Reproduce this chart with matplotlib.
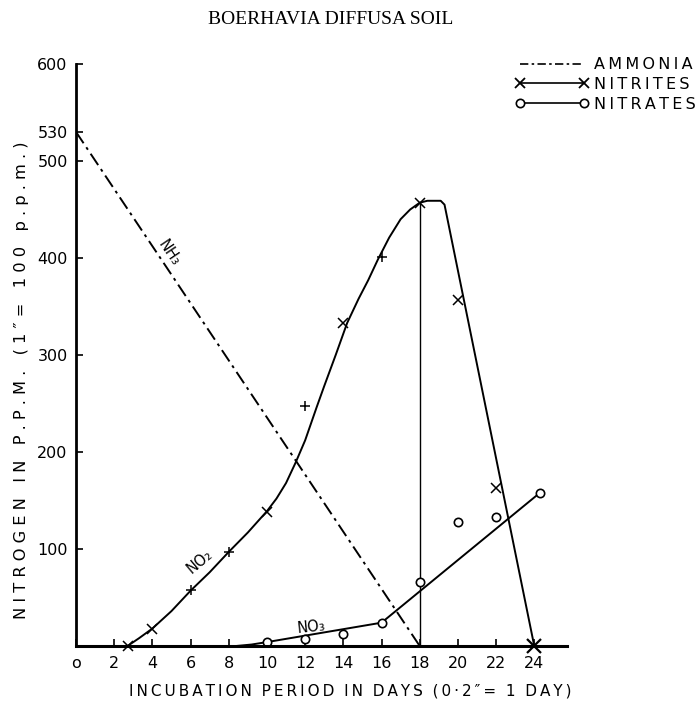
import matplotlib
matplotlib.use("Agg")
import matplotlib.pyplot as plt

# ammonia (NH3), straight line drawn from 530 ppm down to zero
ammonia_days = [0, 18]
ammonia_ppm = [530, 0]

# nitrites (NO2): observed points
nitrite_days = [2.7, 4, 6, 8, 10, 12, 14, 16, 18, 20, 22, 24]
nitrite_ppm = [0, 18, 58, 97, 138, 247, 333, 401, 457, 357, 163, 0]
nitrite_marks = ["x", "x", "+", "+", "x", "+", "x", "+", "x", "x", "x", "x"]

# nitrites: hand-drawn curve
nitrite_curve_days = [2.7, 3.3, 4, 5, 6, 7, 8, 9, 10, 10.5, 11, 11.5, 12, 12.6, 13, 13.6,
                      14.2, 14.8, 15.3, 15.8, 16.4, 17, 17.5, 18, 18.4, 19.1, 19.3, 24]
nitrite_curve_ppm = [0, 8, 18, 36, 57, 76, 97, 117, 139, 152, 168, 189, 212, 246, 268, 300,
                     333, 358, 377, 398, 421, 440, 450, 457, 459, 459, 455, 0]

# nitrates (NO3): observed points and fitted line
nitrate_days = [10, 12, 14, 16, 18, 20, 22, 24.3]
nitrate_ppm = [4, 7, 12, 24, 66, 128, 133, 158]
nitrate_line_days = [8.4, 9.2, 10, 16, 24.3]
nitrate_line_ppm = [0, 1.5, 4, 24, 158]

xticks = list(range(0, 25, 2))
yticks = [100, 200, 300, 400, 500, 530, 600]

fig = plt.figure(figsize=(7, 7.09), dpi=100)
ax = fig.add_axes([0.1086, 0.0889, 0.701, 0.8208])

ax.plot(ammonia_days, ammonia_ppm, color="black", lw=1.4,
        linestyle=(0, (7, 2.5, 1.5, 2.5)))

ax.plot(nitrite_curve_days, nitrite_curve_ppm, color="black", lw=1.4)
for d, v, m in zip(nitrite_days, nitrite_ppm, nitrite_marks):
    big = d == 24
    ax.plot(d, v, marker=m, color="black", ms=10 if big else 7,
            mew=1.6 if big else 1.1, ls="none", clip_on=False)

# drop line from nitrite peak
ax.plot([18, 18], [0, 457], color="black", lw=1.0)

ax.plot(nitrate_line_days, nitrate_line_ppm, color="black", lw=1.4)
ax.plot(nitrate_days, nitrate_ppm, "o", color="black", mfc="white", ms=6, mew=1.2, ls="none")

ax.text(4.9, 405, "NH₃", rotation=-56, fontsize=10.5, ha="center", va="center")
ax.text(6.5, 87, "NO₂", rotation=40, fontsize=10.5, ha="center", va="center")
ax.text(12.3, 19, "NO₃", rotation=6, fontsize=10.5, ha="center", va="center")

ax.set_xlim(0, 25.7)
ax.set_ylim(0, 600)
ax.spines["top"].set_visible(False)
ax.spines["right"].set_visible(False)
ax.spines["left"].set_linewidth(2)
ax.spines["bottom"].set_linewidth(2.2)

ax.set_xticks(xticks)
ax.set_xticklabels(["o"] + [str(t) for t in xticks[1:]], fontsize=11.5)
ax.set_yticks(yticks)
ax.set_yticklabels([str(t) for t in yticks], fontsize=11.5)
ax.tick_params(axis="both", direction="in", length=5, width=1.2, pad=6)
ax.tick_params(axis="x", pad=7)

fig.text(0.473, 0.972, "BOERHAVIA DIFFUSA SOIL", family="Liberation Serif",
         fontsize=14, ha="center", va="center")


def spaced(s, gap="\u2009"):
    return (" " + gap + " ").join(gap.join(w) for w in s.split()) if gap == " " \
        else "  ".join(gap.join(w) for w in s.split())


def fit_text(t, target_px, vertical=False):
    # scale font so the label spans the same length as in the original
    r = fig.canvas.get_renderer()
    bb = t.get_window_extent(r)
    size = bb.height if vertical else bb.width
    t.set_fontsize(t.get_fontsize() * target_px / size)


ylab = fig.text(0.031, 0.463, spaced("NITROGEN IN P.P.M. (1″= 100 p.p.m.)", gap=" "),
                rotation=90, fontsize=10, ha="center", va="center")
xlab = fig.text(0.5, 0.025, spaced("INCUBATION PERIOD IN DAYS (0·2″= 1 DAY)"),
                fontsize=11, ha="center", va="center")
fit_text(ylab, 477, vertical=True)
fit_text(xlab, 440)

h1, = ax.plot([], [], color="black", lw=1.2, linestyle=(0, (5, 2, 1.5, 2)))
h2, = ax.plot([], [], color="black", lw=1.2, marker="x", ms=7, mew=1.3)
h3, = ax.plot([], [], color="black", lw=1.2, marker="o", mfc="white", ms=6, mew=1.2)
ax.legend([h1, h2, h3], [spaced("AMMONIA"), spaced("NITRITES"), spaced("NITRATES")],
          loc="upper left", bbox_to_anchor=(0.72, 0.935), bbox_transform=fig.transFigure,
          frameon=False, handlelength=4.6, handletextpad=0.35, labelspacing=0.3,
          numpoints=2, fontsize=11.5, borderpad=0.2)

fig.savefig("out.png", dpi=100)
